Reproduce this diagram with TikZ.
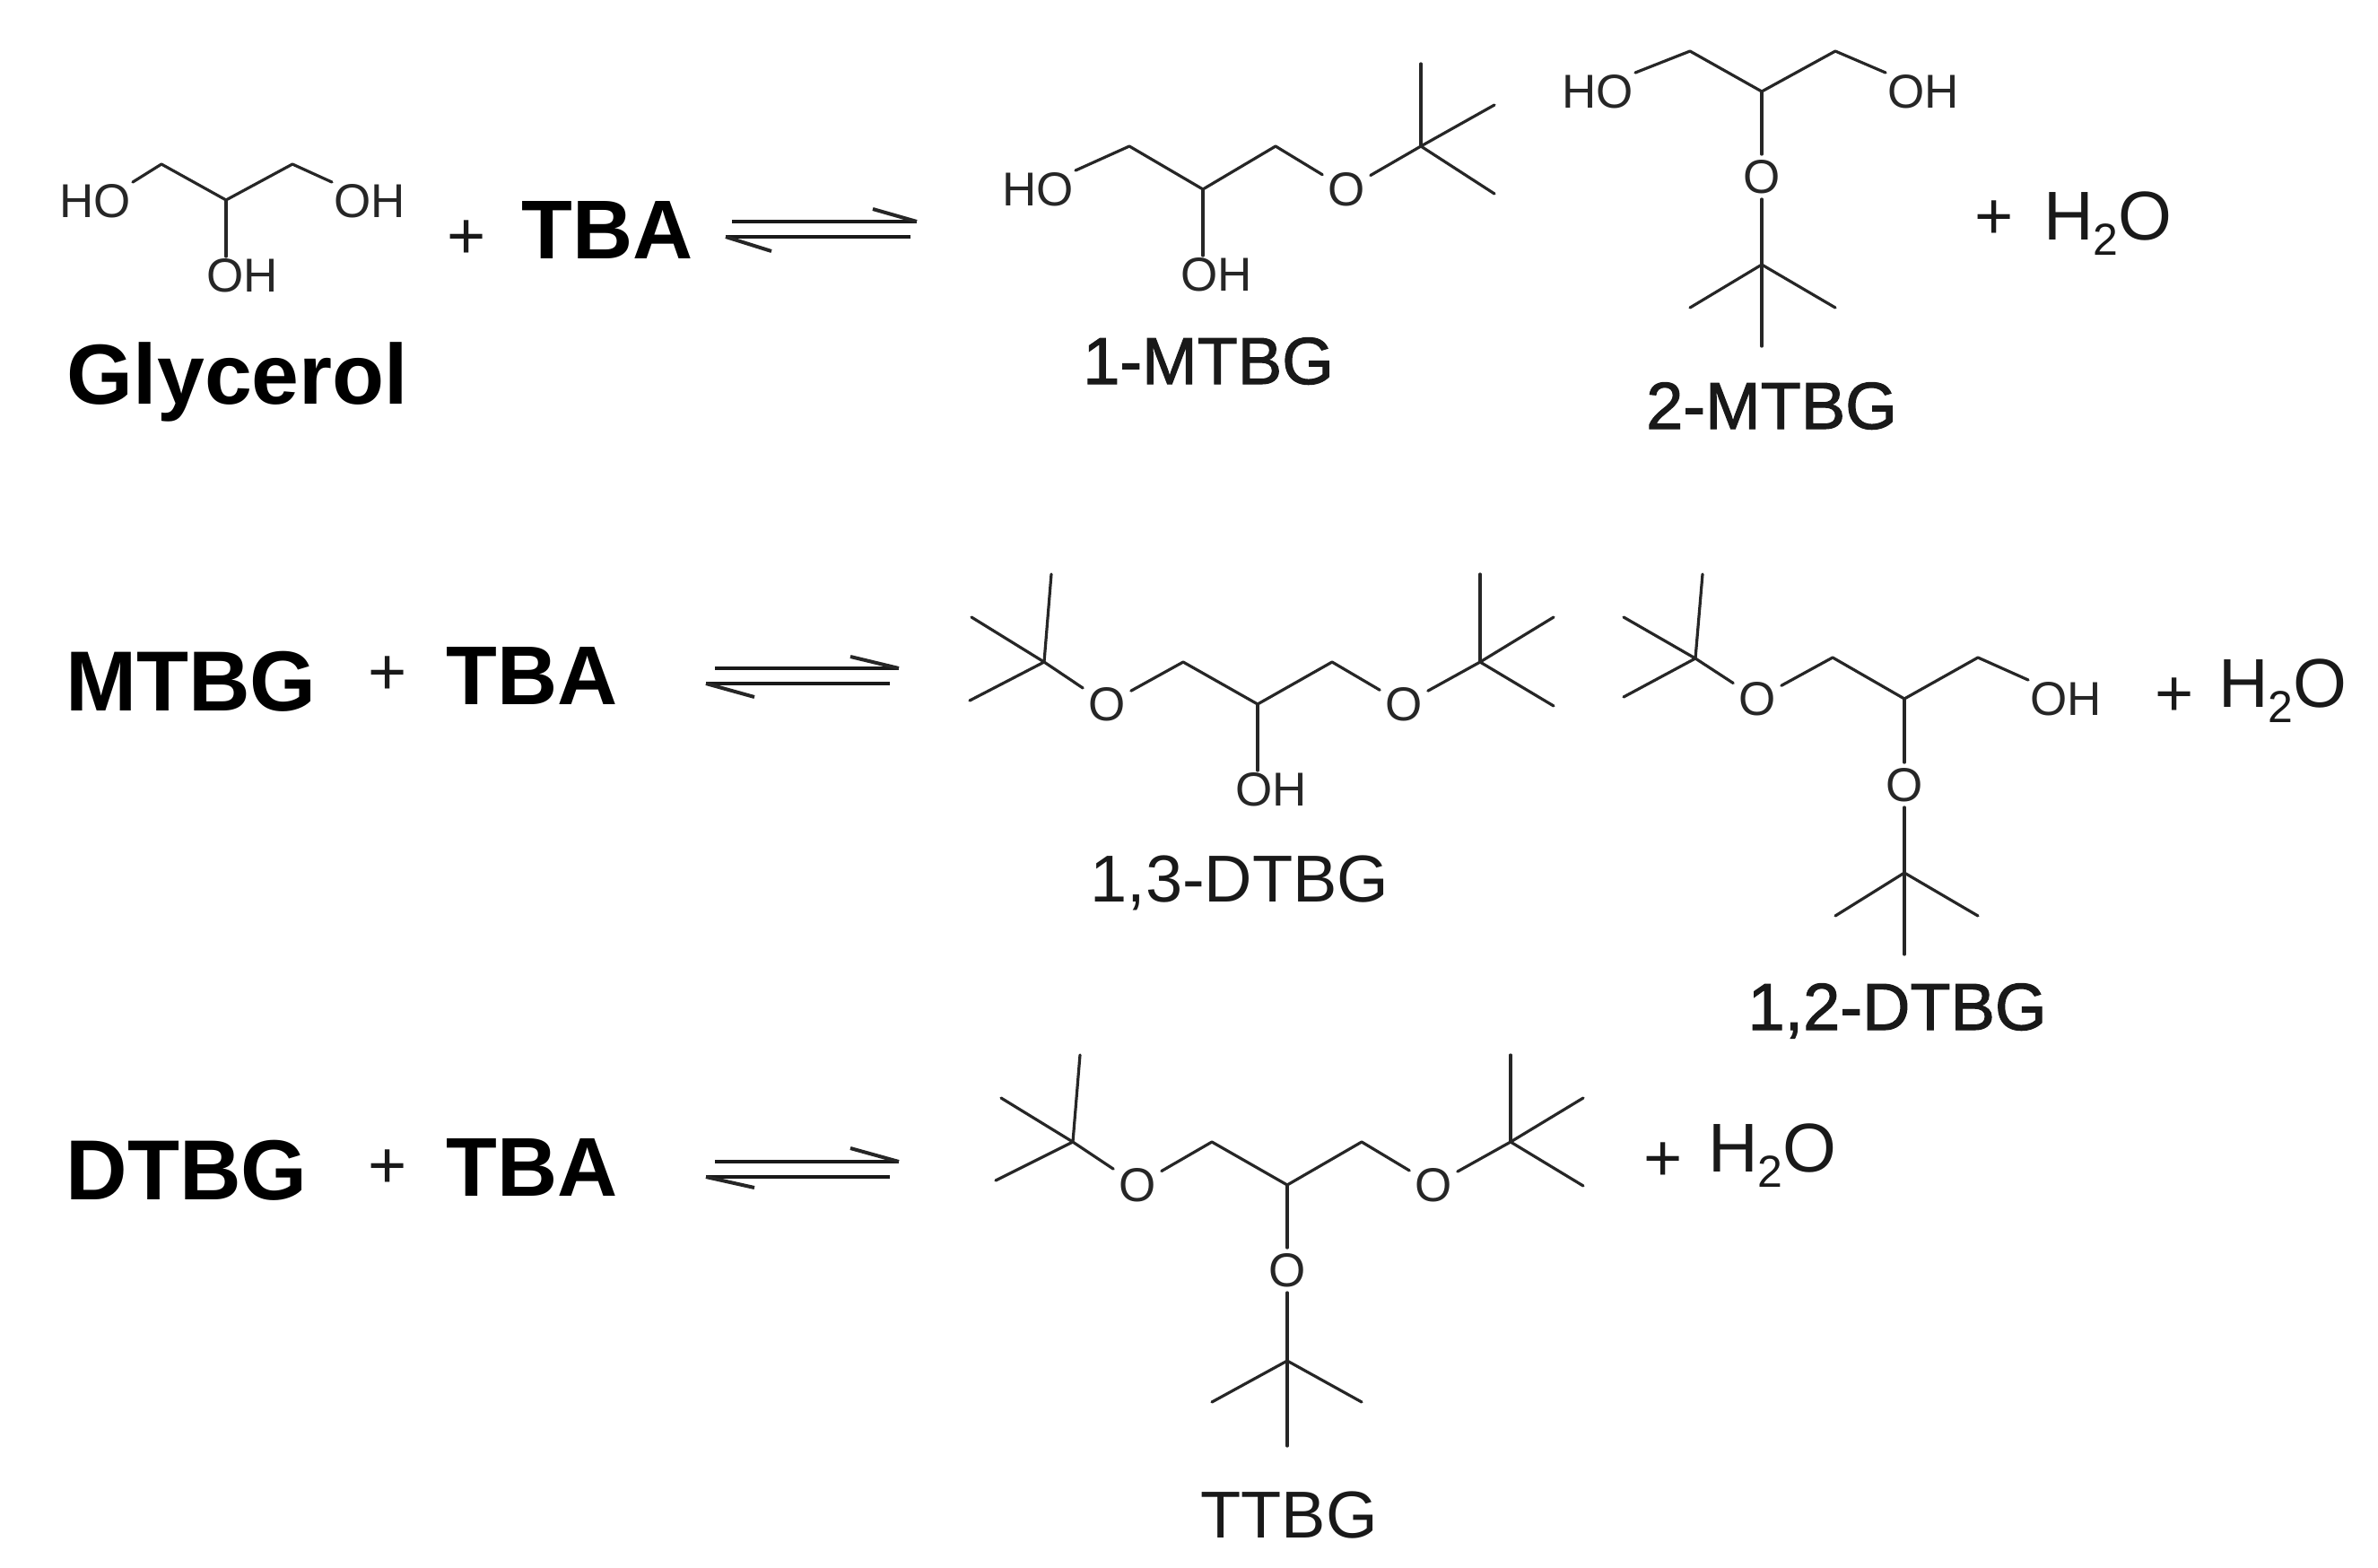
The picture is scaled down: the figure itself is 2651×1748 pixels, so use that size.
\documentclass[tikz,border=0pt]{standalone}
\usepackage{fontspec}
\setmainfont{Liberation Sans}
\newfontfamily\heavierfont[FakeBold=1.5]{Liberation Sans}
\newcommand{\waterlabel}{H\raisebox{-17pt}{\fontsize{50}{54}\selectfont 2}O}
\tikzset{
  bond/.style={line width=3.2pt,draw=black!85,line cap=round,line join=round},
  eqline/.style={line width=4.8pt,draw=black!90,line cap=butt,line join=miter},
  barb/.style={line width=4pt,draw=black!85,line cap=butt},
  hydroxyl/.style={font=\fontsize{53}{60}\selectfont,text=black!85,inner sep=2pt},
  ether/.style={font=\fontsize{53}{60}\selectfont,text=black!85,inner sep=6pt},
  boldname/.style={font=\fontsize{93}{100}\selectfont\bfseries,anchor=base,inner sep=0pt},
  widename/.style={font=\fontsize{95}{100}\selectfont\bfseries,anchor=base,inner sep=0pt},
  isomer/.style={font=\fontsize{74}{80}\selectfont,text=black!90,anchor=base,inner sep=0pt},
  heavyisomer/.style={font=\fontsize{74}{80}\heavierfont,text=black!90,anchor=base,inner sep=0pt},
  plussign/.style={font=\fontsize{74}{80}\selectfont,text=black!90,inner sep=0pt},
  water/.style={font=\fontsize{77}{84}\selectfont,text=black!90,anchor=base west,inner sep=0pt}
}
\begin{document}
\begin{tikzpicture}[x=1pt,y=-1pt]
\useasboundingbox (0,0) rectangle (2651,1748);
\fill[white] (0,0) rectangle (2651,1748);

% ---------- Row 1: glycerol + TBA
\node[hydroxyl] (gHO) at (106,224) {HO};
\node[hydroxyl] (gOHr) at (412,224) {OH};
\node[hydroxyl] (gOHb) at (270,307) {OH};
\coordinate (g1) at (180,183);
\coordinate (g2) at (252,223);
\coordinate (g3) at (326,183);
\draw[bond] (gHO.north east) -- (g1) -- (g2) -- (g3) -- (gOHr.north west);
\draw[bond] (g2) -- (g2 |- gOHb.north);
\node[widename] (glyname) at (265,450) {Glycerol};
\node[plussign] (plusA) at (520,267) {+};
\node[boldname] (tbaA) at (677,288) {TBA};
\coordinate (eqAa) at (816,247);
\coordinate (eqAb) at (1022,247);
\coordinate (eqAc) at (973,233);
\coordinate (eqAd) at (1015,264);
\coordinate (eqAe) at (809,264);
\coordinate (eqAf) at (860,280);
\draw[eqline] (eqAa) -- (eqAb);
\draw[barb] (eqAc) -- (eqAb);
\draw[eqline] (eqAd) -- (eqAe);
\draw[barb] (eqAe) -- (eqAf);

% ---------- 1-MTBG
\node[hydroxyl] (aHO) at (1157,211) {HO};
\node[hydroxyl] (aOH) at (1356,306) {OH};
\node[ether] (aO) at (1501,211) {O};
\coordinate (a1) at (1259,163);
\coordinate (a2) at (1341,211);
\coordinate (a3) at (1422,163);
\coordinate (aQ) at (1584,163);
\coordinate (aM1) at (1584,71);
\coordinate (aM2) at (1666,117);
\coordinate (aM3) at (1666,216);
\draw[bond] (aHO.north east) -- (a1) -- (a2) -- (a3) -- (aO);
\draw[bond] (aO) -- (aQ);
\draw[bond] (aQ) -- (aM1);
\draw[bond] (aQ) -- (aM2);
\draw[bond] (aQ) -- (aM3);
\draw[bond] (a2) -- (a2 |- aOH.north);
\node[heavyisomer] (aname) at (1347,428) {1-MTBG};

% ---------- 2-MTBG
\node[hydroxyl] (bHO) at (1781,102) {HO};
\node[hydroxyl] (bOH) at (2144,102) {OH};
\node[ether] (bO) at (1964,197) {O};
\coordinate (b1) at (1884,57);
\coordinate (b2) at (1964,102);
\coordinate (b3) at (2046,57);
\coordinate (bQ) at (1964,295);
\coordinate (bM1) at (1884,343);
\coordinate (bM2) at (2046,343);
\coordinate (bM3) at (1964,386);
\draw[bond] (bHO.north east) -- (b1) -- (b2) -- (b3) -- (bOH.north west);
\draw[bond] (b2) -- (bO);
\draw[bond] (bO) -- (bQ);
\draw[bond] (bQ) -- (bM1);
\draw[bond] (bQ) -- (bM2);
\draw[bond] (bQ) -- (bM3);
\node[heavyisomer] (bname) at (1975,478) {2-MTBG};
\node[plussign] (plusB) at (2223,245) {+};
\node[water] (waterA) at (2278,267) {\waterlabel};

% ---------- Row 2: MTBG + TBA
\node[widename] (mtbg) at (213,792) {MTBG};
\node[plussign] (plusC) at (432,753) {+};
\node[boldname] (tbaB) at (593,785) {TBA};
\coordinate (eqBa) at (797,745);
\coordinate (eqBb) at (1002,745);
\coordinate (eqBc) at (948,732);
\coordinate (eqBd) at (992,762);
\coordinate (eqBe) at (787,762);
\coordinate (eqBf) at (841,777);
\draw[eqline] (eqBa) -- (eqBb);
\draw[barb] (eqBc) -- (eqBb);
\draw[eqline] (eqBd) -- (eqBe);
\draw[barb] (eqBe) -- (eqBf);

% ---------- 1,3-DTBG
\node[ether] (cO1) at (1234,785) {O};
\node[ether] (cO2) at (1565,785) {O};
\node[hydroxyl] (cOH) at (1417,880) {OH};
\coordinate (cQ1) at (1164,738);
\coordinate (cA) at (1172,640);
\coordinate (cB) at (1083,688);
\coordinate (cC) at (1081,781);
\coordinate (c1) at (1319,738);
\coordinate (c2) at (1402,785);
\coordinate (c3) at (1485,738);
\coordinate (cQ2) at (1650,738);
\coordinate (cD) at (1650,640);
\coordinate (cE) at (1732,688);
\coordinate (cF) at (1732,787);
\draw[bond] (cQ1) -- (cA);
\draw[bond] (cQ1) -- (cB);
\draw[bond] (cQ1) -- (cC);
\draw[bond] (cQ1) -- (cO1);
\draw[bond] (cO1) -- (c1) -- (c2) -- (c3) -- (cO2);
\draw[bond] (cO2) -- (cQ2);
\draw[bond] (cQ2) -- (cD);
\draw[bond] (cQ2) -- (cE);
\draw[bond] (cQ2) -- (cF);
\draw[bond] (c2) -- (c2 |- cOH.north);
\node[isomer] (cname) at (1382,1005) {1,3-DTBG};

% ---------- 1,2-DTBG
\node[ether] (dO1) at (1959,779) {O};
\node[ether] (dO2) at (2123,875) {O};
\node[hydroxyl] (dOH) at (2303,779) {OH};
\coordinate (dQ1) at (1890,734);
\coordinate (dA) at (1898,640);
\coordinate (dB) at (1810,688);
\coordinate (dC) at (1810,777);
\coordinate (d1) at (2043,733);
\coordinate (d2) at (2123,779);
\coordinate (d3) at (2205,733);
\coordinate (dQ2) at (2123,973);
\coordinate (dD) at (2046,1021);
\coordinate (dE) at (2205,1021);
\coordinate (dF) at (2123,1064);
\draw[bond] (dQ1) -- (dA);
\draw[bond] (dQ1) -- (dB);
\draw[bond] (dQ1) -- (dC);
\draw[bond] (dQ1) -- (dO1);
\draw[bond] (dO1) -- (d1) -- (d2) -- (d3) -- (dOH.north west);
\draw[bond] (d2) -- (dO2);
\draw[bond] (dO2) -- (dQ2);
\draw[bond] (dQ2) -- (dD);
\draw[bond] (dQ2) -- (dE);
\draw[bond] (dQ2) -- (dF);
\node[heavyisomer] (dname) at (2115,1148) {1,2-DTBG};
\node[plussign] (plusD) at (2424,777) {+};
\node[water] (waterB) at (2473,788) {\waterlabel};

% ---------- Row 3: DTBG + TBA
\node[widename] (dtbg) at (208,1337) {DTBG};
\node[plussign] (plusE) at (432,1303) {+};
\node[boldname] (tbaC) at (593,1333) {TBA};
\coordinate (eqCa) at (797,1295);
\coordinate (eqCb) at (1002,1295);
\coordinate (eqCc) at (948,1280);
\coordinate (eqCd) at (992,1312);
\coordinate (eqCe) at (787,1312);
\coordinate (eqCf) at (841,1324);
\draw[eqline] (eqCa) -- (eqCb);
\draw[barb] (eqCc) -- (eqCb);
\draw[eqline] (eqCd) -- (eqCe);
\draw[barb] (eqCe) -- (eqCf);

% ---------- TTBG
\node[ether] (tO1) at (1268,1321) {O};
\node[ether] (tO2) at (1598,1321) {O};
\node[ether] (tO3) at (1435,1416) {O};
\coordinate (tQ1) at (1196,1273);
\coordinate (tA) at (1204,1176);
\coordinate (tB) at (1116,1224);
\coordinate (tC) at (1110,1316);
\coordinate (t1) at (1351,1273);
\coordinate (t2) at (1435,1321);
\coordinate (t3) at (1518,1273);
\coordinate (tQ2) at (1684,1273);
\coordinate (tD) at (1684,1176);
\coordinate (tE) at (1765,1224);
\coordinate (tF) at (1765,1322);
\coordinate (tQ3) at (1435,1517);
\coordinate (tG) at (1351,1563);
\coordinate (tH) at (1518,1563);
\coordinate (tI) at (1435,1612);
\draw[bond] (tQ1) -- (tA);
\draw[bond] (tQ1) -- (tB);
\draw[bond] (tQ1) -- (tC);
\draw[bond] (tQ1) -- (tO1);
\draw[bond] (tO1) -- (t1) -- (t2) -- (t3) -- (tO2);
\draw[bond] (tO2) -- (tQ2);
\draw[bond] (tQ2) -- (tD);
\draw[bond] (tQ2) -- (tE);
\draw[bond] (tQ2) -- (tF);
\draw[bond] (t2) -- (tO3);
\draw[bond] (tO3) -- (tQ3);
\draw[bond] (tQ3) -- (tG);
\draw[bond] (tQ3) -- (tH);
\draw[bond] (tQ3) -- (tI);
\node[isomer] (tname) at (1437,1714) {TTBG};
\node[plussign] (plusF) at (1854,1295) {+};
\node[water] (waterC) at (1904,1306) {\waterlabel};
\end{tikzpicture}
\end{document}
